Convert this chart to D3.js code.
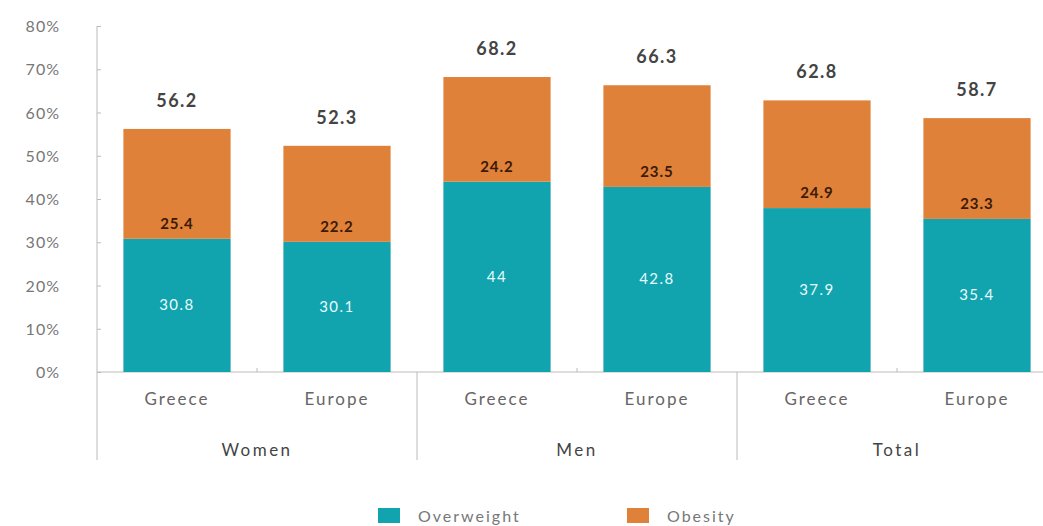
<!DOCTYPE html>
<meta charset="utf-8">
<html>
<head>
<script src="https://d3js.org/d3.v7.min.js"></script>
<style>
    body { margin: 0; background: #fff; font-family: "Lato", "Open Sans", sans-serif; }
    svg text { fill: #555; }
</style>
</head>
<body>
<svg id="chart"></svg>
<script>

var groups = ["Women", "Men", "Total"]
var places = ["Greece", "Europe"]
var overweight = [30.8, 30.1, 44, 42.8, 37.9, 35.4]
var obesity = [25.4, 22.2, 24.2, 23.5, 24.9, 23.3]
var totals = [56.2, 52.3, 68.2, 66.3, 62.8, 58.7]
var yTicks = [0, 10, 20, 30, 40, 50, 60, 70, 80]
var seriesNames = ["Overweight", "Obesity"]

var width = 1043, height = 526
var svg = d3.select("#chart").attr("width", width).attr("height", height)

var teal = "#11a3ae", orange = "#e08139"

// one band per bar, keys like "Women|Greece"
var keys = []
groups.forEach(g => places.forEach(p => keys.push(g + "|" + p)))

var x = d3.scaleBand()
    .domain(keys)
    .range([97, 1057])
    .paddingInner(0.33)
    .paddingOuter(0.165)

var y = d3.scaleLinear().domain([0, 80]).range([372, 26])

// y axis
var yAxis = svg.append("g")
    .attr("transform", "translate(97,0)")
    .call(d3.axisRight(y).tickValues(yTicks).tickSize(4).tickFormat(""))
yAxis.select(".domain").remove()
yAxis.selectAll("line").attr("stroke", "#bbb")

svg.append("line")
    .attr("x1", 97).attr("x2", 97)
    .attr("y1", y(80)).attr("y2", 460)
    .attr("stroke", "#bbb")

svg.append("g").selectAll("text")
    .data(yTicks)
    .join("text")
    .attr("x", 60)
    .attr("y", d => y(d) + 6)
    .attr("text-anchor", "end")
    .attr("font-size", 16)
    .attr("letter-spacing", 1)
    .style("fill", "#777")
    .text(d => d + "%")

// x axis baseline
svg.append("line")
    .attr("x1", 97).attr("x2", width)
    .attr("y1", y(0)).attr("y2", y(0))
    .attr("stroke", "#bbb")

// group separators
var step = x.step()
function groupStart(g) { return x(g + "|Greece") - x.paddingOuter() * step }

svg.append("g").selectAll("line")
    .data(groups)
    .join("line")
    .attr("x1", d => groupStart(d) + 2 * step)
    .attr("x2", d => groupStart(d) + 2 * step)
    .attr("y1", y(0)).attr("y2", 460)
    .attr("stroke", "#bbb")

// small ticks between the two bars of a group
svg.append("g").selectAll("line")
    .data(groups)
    .join("line")
    .attr("x1", d => groupStart(d) + step)
    .attr("x2", d => groupStart(d) + step)
    .attr("y1", y(0)).attr("y2", y(0) - 4)
    .attr("stroke", "#bbb")

// bars
var bars = svg.append("g").selectAll("g")
    .data(keys)
    .join("g")

bars.append("rect")
    .attr("x", d => x(d))
    .attr("width", x.bandwidth())
    .attr("y", (d, i) => y(overweight[i]))
    .attr("height", (d, i) => y(0) - y(overweight[i]))
    .attr("fill", teal)

bars.append("rect")
    .attr("x", d => x(d))
    .attr("width", x.bandwidth())
    .attr("y", (d, i) => y(overweight[i] + obesity[i]))
    .attr("height", (d, i) => y(overweight[i]) - y(overweight[i] + obesity[i]))
    .attr("fill", orange)

// overweight labels
bars.append("text")
    .attr("x", d => x(d) + x.bandwidth() / 2)
    .attr("y", (d, i) => y(overweight[i] / 2) + 5)
    .attr("text-anchor", "middle")
    .attr("font-size", 15)
    .attr("letter-spacing", 1.5)
    .style("fill", "#e8fbfc")
    .text((d, i) => overweight[i])

// obesity labels, sit just above the seam
bars.append("text")
    .attr("x", d => x(d) + x.bandwidth() / 2)
    .attr("y", (d, i) => y(overweight[i]) - 10)
    .attr("text-anchor", "middle")
    .attr("font-size", 15)
    .attr("font-weight", "bold")
    .attr("letter-spacing", 1)
    .style("fill", "#3a1a08")
    .text((d, i) => obesity[i])

// totals
bars.append("text")
    .attr("x", d => x(d) + x.bandwidth() / 2)
    .attr("y", (d, i) => y(totals[i]) - 22)
    .attr("text-anchor", "middle")
    .attr("font-size", 18)
    .attr("font-weight", "bold")
    .attr("letter-spacing", 1.5)
    .style("fill", "#444")
    .text((d, i) => totals[i])

// category labels
svg.append("g").selectAll("text")
    .data(keys)
    .join("text")
    .attr("x", d => x(d) + x.bandwidth() / 2)
    .attr("y", 405)
    .attr("text-anchor", "middle")
    .attr("font-size", 17)
    .attr("letter-spacing", 2)
    .style("fill", "#666")
    .text(d => d.split("|")[1])

// group labels
svg.append("g").selectAll("text")
    .data(groups)
    .join("text")
    .attr("x", d => groupStart(d) + step)
    .attr("y", 456)
    .attr("text-anchor", "middle")
    .attr("font-size", 17)
    .attr("letter-spacing", 2.5)
    .style("fill", "#444")
    .text(d => d)

// legend
var legendX = [378, 627]
var legendColors = [teal, orange]
var legend = svg.append("g").selectAll("g")
    .data(seriesNames)
    .join("g")
    .attr("transform", (d, i) => "translate(" + legendX[i] + ",508)")
legend.append("rect")
    .attr("width", 22).attr("height", 15)
    .attr("fill", (d, i) => legendColors[i])
legend.append("text")
    .attr("x", 40).attr("y", 14)
    .attr("font-size", 16)
    .attr("letter-spacing", 2)
    .style("fill", "#777")
    .text(d => d)
</script>
</body>
</html>
